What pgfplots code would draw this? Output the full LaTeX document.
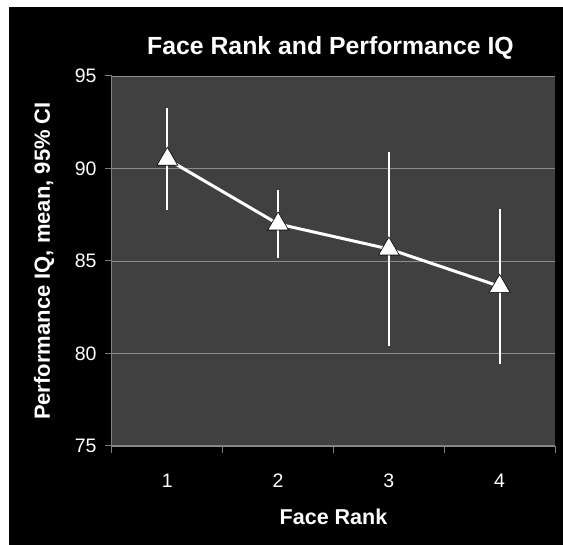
\documentclass[border=0pt]{standalone}
\usepackage{pgfplots}
\pgfplotsset{compat=1.18}
\usepackage{fontspec}
\setmainfont{Liberation Sans}
\definecolor{plotbg}{RGB}{64,64,64}
\definecolor{gridc}{RGB}{140,140,140}
\definecolor{axc}{RGB}{128,128,128}
\begin{document}
\begin{tikzpicture}[x=1pt,y=1pt]
\fill[white] (0,0) rectangle (563,545);
\fill[black] (9,0) rectangle (563,538);
\useasboundingbox (0,0) rectangle (563,545);
\begin{axis}[
  at={(112pt,99pt)}, anchor=south west,
  scale only axis, width=443pt, height=370pt,
  xmin=0.5, xmax=4.5, ymin=75, ymax=95,
  axis background/.style={fill=plotbg},
  axis x line*=bottom, axis y line*=left,
  axis line style={axc, line width=1pt},
  ytick={75,80,85,90,95},
  xtick={0.5,1.5,2.5,3.5,4.5}, xticklabels={,,,,},
  extra x ticks={1,2,3,4}, extra x tick labels={1,2,3,4},
  extra x tick style={major tick length=0pt, grid=none},
  tick align=outside, major tick length=7pt,
  tick style={axc, line width=1pt},
  ymajorgrids, grid style={gridc, line width=0.8pt},
  /pgf/number format/assume math mode=true,
  ticklabel style={white, font=\fontsize{19.5}{20}\selectfont},
  yticklabel style={anchor=east, xshift=-5pt},
  xticklabel style={anchor=base, yshift=-42pt},
  title={Face Rank and Performance IQ},
  title style={white, font=\fontsize{24.8}{26}\selectfont\bfseries, at={(axis description cs:0.5,1)}, anchor=base, yshift=15pt, xshift=-3pt},
  xlabel={Face Rank},
  xlabel style={white, font=\fontsize{21.5}{23}\selectfont\bfseries, at={(axis description cs:0.5,0)}, anchor=base, yshift=-79pt},
  ylabel={Performance IQ, mean, 95\% CI},
  ylabel style={white, font=\fontsize{22}{24}\selectfont\bfseries, at={(axis description cs:-0.1535,0.5)}, anchor=center},
  clip=false,
]
\addplot[white, line width=3pt, mark=triangle*, mark size=12pt,
  mark options={fill=white, draw=black, line width=0.6pt},
  error bars/.cd, y dir=both, y explicit, error mark=none,
  error bar style={white, line width=2pt}]
  coordinates {
    (1,90.5) +- (0,2.75)
    (2,87.0) +- (0,1.82)
    (3,85.65) +- (0,5.25)
    (4,83.63) +- (0,4.2)
  };
\end{axis}
\end{tikzpicture}
\end{document}
